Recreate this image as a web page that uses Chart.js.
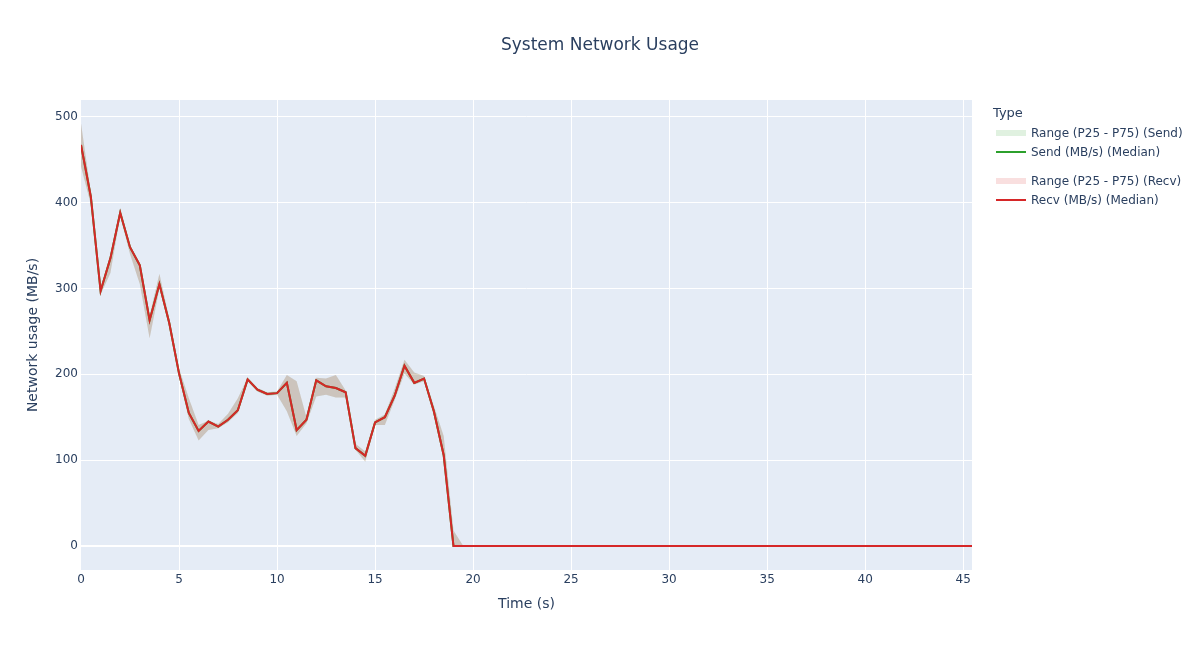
<!DOCTYPE html>
<html>
<head>
<meta charset="utf-8">
<script src="https://cdn.jsdelivr.net/npm/chart.js@4.4.1/dist/chart.umd.min.js"></script>
<style>
  html, body { margin: 0; padding: 0; background: #ffffff; }
  #wrap { position: relative; width: 1200px; height: 650px; font-family: "DejaVu Sans", sans-serif; color: #2a3f5f; }
  #c { position: absolute; left: 0; top: 0; }
  #title { position: absolute; left: 0; top: 34px; width: 1200px; text-align: center; font-size: 17px; line-height: 20px; }
  .lg { position: absolute; font-size: 12px; line-height: 14px; white-space: nowrap; }
  .lgtitle { position: absolute; left: 993px; top: 105px; font-size: 13px; line-height: 16px; }
  .sw { position: absolute; left: 996px; width: 30px; }
</style>
</head>
<body>
<div id="wrap">
  <canvas id="c" width="1200" height="650"></canvas>
  <div id="title">System Network Usage</div>
  <div class="lgtitle">Type</div>
  <div class="sw" style="top:130px;height:6px;background:rgba(44,160,44,0.15)"></div>
  <div class="lg" style="left:1031px;top:126px">Range (P25 - P75) (Send)</div>
  <div class="sw" style="top:151px;height:2px;background:#2ca02c"></div>
  <div class="lg" style="left:1031px;top:145px">Send (MB/s) (Median)</div>
  <div class="sw" style="top:178px;height:6px;background:rgba(214,39,40,0.15)"></div>
  <div class="lg" style="left:1031px;top:174px">Range (P25 - P75) (Recv)</div>
  <div class="sw" style="top:199px;height:2px;background:#d62728"></div>
  <div class="lg" style="left:1031px;top:193px">Recv (MB/s) (Median)</div>
</div>
<script>
const times = [0,0.5,1,1.5,2,2.5,3,3.5,4,4.5,5,5.5,6,6.5,7,7.5,8,8.5,9,9.5,10,10.5,11,11.5,12,12.5,13,13.5,14,14.5,15,15.5,16,16.5,17,17.5,18,18.5,
  19,19.5,20,20.5,21,21.5,22,22.5,23,23.5,24,24.5,25,25.5,26,26.5,27,27.5,28,28.5,29,29.5,30,30.5,31,31.5,32,32.5,33,33.5,34,34.5,35,35.5,36,36.5,37,37.5,38,38.5,39,39.5,40,40.5,41,41.5,42,42.5,43,43.5,44,44.5,45,45.5];

const sendMedian = [467,407,297,335,388,348,327,263,305,260,201,155,134,145,139,147,158,194,182,177,178,190,135,147,193,186,184,179,114,105,144,150,175,210,190,195,157,106,
  0,0,0,0,0,0,0,0,0,0,0,0,0,0,0,0,0,0,0,0,0,0,0,0,0,0,0,0,0,0,0,0,0,0,0,0,0,0,0,0,0,0,0,0,0,0,0,0,0,0,0,0,0,0];
const sendP25 = [442,398,293,318,384,340,305,242,300,255,197,148,123,135,137,144,155,192,180,175,176,157,128,143,174,176,173,173,112,98,141,141,170,201,188,192,152,100,
  0,0,0,0,0,0,0,0,0,0,0,0,0,0,0,0,0,0,0,0,0,0,0,0,0,0,0,0,0,0,0,0,0,0,0,0,0,0,0,0,0,0,0,0,0,0,0,0,0,0,0,0,0,0];
const sendP75 = [492,412,300,340,394,350,330,268,317,265,207,172,141,146,142,154,172,196,184,179,180,199,192,150,196,195,199,181,119,110,147,153,183,217,202,198,163,128,
  18,0,0,0,0,0,0,0,0,0,0,0,0,0,0,0,0,0,0,0,0,0,0,0,0,0,0,0,0,0,0,0,0,0,0,0,0,0,0,0,0,0,0,0,0,0,0,0,0,0,0,0,0,0];

const recvMedian = [467,407,297,335,388,348,327,263,305,260,201,155,134,145,139,147,158,194,182,177,178,190,135,147,193,186,184,179,114,105,144,150,175,210,190,195,157,106,
  0,0,0,0,0,0,0,0,0,0,0,0,0,0,0,0,0,0,0,0,0,0,0,0,0,0,0,0,0,0,0,0,0,0,0,0,0,0,0,0,0,0,0,0,0,0,0,0,0,0,0,0,0,0];
const recvP25 = [442,398,293,318,384,340,305,242,300,255,197,148,123,135,137,144,155,192,180,175,176,157,128,143,174,176,173,173,112,98,141,141,170,201,188,192,152,100,
  0,0,0,0,0,0,0,0,0,0,0,0,0,0,0,0,0,0,0,0,0,0,0,0,0,0,0,0,0,0,0,0,0,0,0,0,0,0,0,0,0,0,0,0,0,0,0,0,0,0,0,0,0,0];
const recvP75 = [492,412,300,340,394,350,330,268,317,265,207,172,141,146,142,154,172,196,184,179,180,199,192,150,196,195,199,181,119,110,147,153,183,217,202,198,163,128,
  18,0,0,0,0,0,0,0,0,0,0,0,0,0,0,0,0,0,0,0,0,0,0,0,0,0,0,0,0,0,0,0,0,0,0,0,0,0,0,0,0,0,0,0,0,0,0,0,0,0,0,0,0,0];

const xTicks = [0,5,10,15,20,25,30,35,40,45];
const yTicks = [0,100,200,300,400,500];

const pts = arr => times.map((t, i) => ({x: t, y: arr[i]}));

const TXT = '#2a3f5f';
Chart.defaults.font.family = '"DejaVu Sans", sans-serif';
Chart.defaults.color = TXT;

const bgPlugin = {
  id: 'plotbg',
  beforeDraw(chart) {
    const {ctx, chartArea: a} = chart;
    ctx.save();
    ctx.fillStyle = '#E5ECF6';
    ctx.fillRect(a.left, a.top, a.right - a.left, a.bottom - a.top);
    ctx.restore();
  }
};

const band = (data, fill, color, order) => ({
  data: pts(data), borderWidth: 0, borderColor: 'rgba(0,0,0,0)', pointRadius: 0,
  fill: fill, backgroundColor: color, tension: 0, order: order, clip: 0
});
const line = (data, color, order) => ({
  data: pts(data), borderWidth: 2, borderColor: color, pointRadius: 0,
  fill: false, tension: 0, order: order, clip: 0
});

new Chart(document.getElementById('c'), {
  type: 'line',
  data: {
    datasets: [
      band(sendP75, '+1', 'rgba(44,160,44,0.15)', 4),
      band(sendP25, false, 'rgba(0,0,0,0)', 4),
      line(sendMedian, '#2ca02c', 3),
      band(recvP75, '+1', 'rgba(214,39,40,0.15)', 2),
      band(recvP25, false, 'rgba(0,0,0,0)', 2),
      line(recvMedian, '#d62728', 1)
    ]
  },
  options: {
    responsive: false,
    animation: false,
    events: [],
    layout: { padding: { top: 100, right: 228, left: 0, bottom: 0 } },
    plugins: { legend: { display: false }, title: { display: false }, tooltip: { enabled: false } },
    scales: {
      x: {
        type: 'linear', min: 0, max: 45.45,
        afterBuildTicks: s => { s.ticks = xTicks.map(v => ({value: v})); },
        afterFit: s => { s.height = 80; },
        ticks: { color: TXT, font: { size: 12 }, padding: 3, maxRotation: 0, autoSkip: false },
        grid: { color: c => (c.tick && c.tick.value === 0) ? 'rgba(0,0,0,0)' : '#ffffff', lineWidth: 1, drawTicks: false },
        border: { display: false },
        title: { display: true, text: 'Time (s)', color: TXT, font: { size: 14 }, padding: { top: 0, bottom: 37 } }
      },
      y: {
        type: 'linear', min: -27.95, max: 519.4,
        afterBuildTicks: s => { s.ticks = yTicks.map(v => ({value: v})); },
        afterFit: s => { s.width = 81; },
        ticks: { color: TXT, font: { size: 12 }, padding: 3 },
        grid: { color: '#ffffff', lineWidth: c => (c.tick && c.tick.value === 0) ? 2 : 1, drawTicks: false },
        border: { display: false },
        title: { display: true, text: 'Network usage (MB/s)', color: TXT, font: { size: 14 }, padding: { top: 25, bottom: 0 } }
      }
    }
  },
  plugins: [bgPlugin]
});
</script>
</body>
</html>
